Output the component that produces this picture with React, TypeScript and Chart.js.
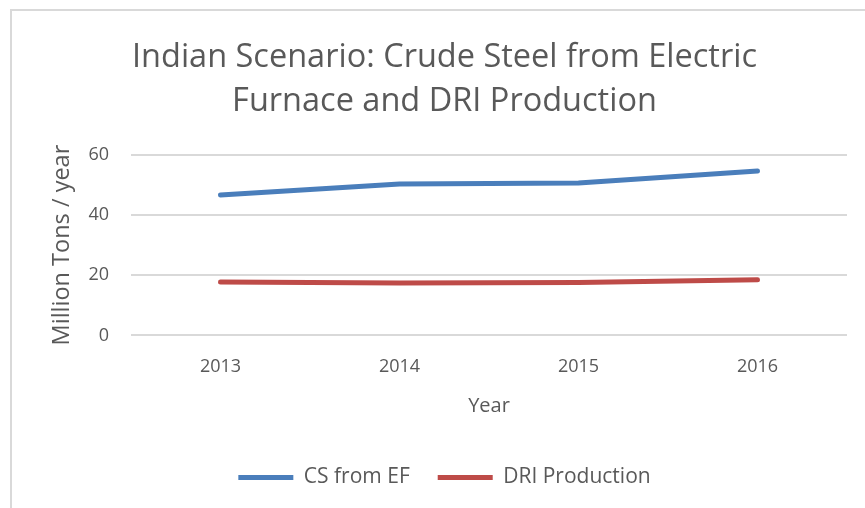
import React, { useEffect, useRef } from "react";
import { Chart, registerables } from "chart.js";

Chart.register(...registerables);

const years = ["2013", "2014", "2015", "2016"];
const csFromEF = [46.6, 50.3, 50.6, 54.6];
const driProduction = [17.7, 17.4, 17.6, 18.5];
const titleLines = ["Indian Scenario: Crude Steel from Electric", "Furnace and DRI Production"];
const yTitle = "Million Tons / year";
const xTitle = "Year";

const FONT = "'Open Sans', sans-serif";
const TXT = "#595959";

export default function App() {
  const ref = useRef<HTMLCanvasElement | null>(null);
  useEffect(() => {
    if (!ref.current) return;
    const chart = new Chart(ref.current, {
      type: "line",
      data: {
        labels: years,
        datasets: [
          {
            label: "CS from EF",
            data: csFromEF,
            borderColor: "#4A7EBB",
            backgroundColor: "#4A7EBB",
            borderWidth: 5,
            borderCapStyle: "round",
            borderJoinStyle: "round",
            pointRadius: 0,
            tension: 0,
          },
          {
            label: "DRI Production",
            data: driProduction,
            borderColor: "#BE4B48",
            backgroundColor: "#BE4B48",
            borderWidth: 5,
            borderCapStyle: "round",
            borderJoinStyle: "round",
            pointRadius: 0,
            tension: 0,
          },
        ],
      },
      options: {
        animation: false,
        responsive: false,
        layout: { padding: { left: 42, right: 18, top: 0, bottom: 10 } },
        plugins: {
          title: {
            display: true,
            text: titleLines,
            color: TXT,
            font: { family: FONT, size: 32.5, weight: "normal", lineHeight: 1.35 },
            padding: { top: 36, bottom: 31 },
          },
          legend: {
            position: "bottom",
            labels: {
              usePointStyle: true,
              pointStyle: "line",
              pointStyleWidth: 55,
              boxWidth: 55,
              boxHeight: 5,
              color: TXT,
              font: { family: FONT, size: 21 },
              padding: 28,
            },
          },
          tooltip: { enabled: false },
        },
        scales: {
          x: {
            offset: true,
            grid: { display: false, drawTicks: false },
            border: { display: false },
            ticks: { color: TXT, font: { family: FONT, size: 18 }, padding: 21 },
            title: { display: true, text: xTitle, color: TXT, font: { family: FONT, size: 20 }, padding: { top: -5, bottom: 21 } },
          },
          y: {
            min: 0,
            max: 60,
            ticks: { stepSize: 20, color: TXT, font: { family: FONT, size: 18 }, padding: 22 },
            grid: { color: "#D9D9D9", lineWidth: 2, drawTicks: false },
            border: { display: false },
            title: { display: true, text: yTitle, color: TXT, font: { family: FONT, size: 23.5 }, padding: { top: 6, bottom: 4 } },
            afterFit: (s: any) => { s.width = 89; },
          },
        },
      },
    });
    return () => chart.destroy();
  }, []);
  return (
    <div style={{ position: "absolute", left: 0, top: 0, width: 865, height: 508, background: "#fff" }}>
      <div style={{ position: "absolute", left: 10, top: 9, right: -10, bottom: -10, borderTop: "2px solid #D9D9D9", borderLeft: "2px solid #D9D9D9" }} />
      <canvas ref={ref} width={865} height={508} style={{ position: "absolute", left: 0, top: 0 }} />
    </div>
  );
}
